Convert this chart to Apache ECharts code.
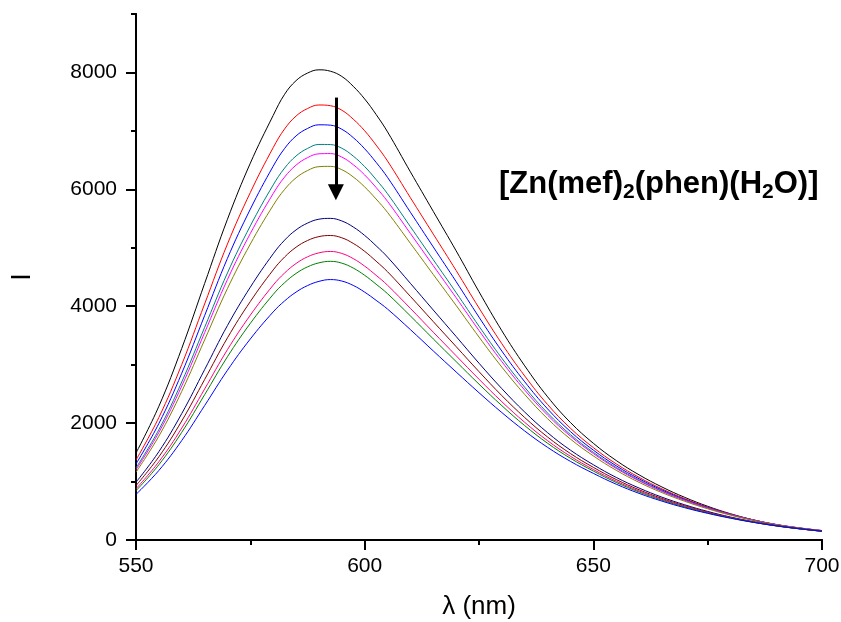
<!DOCTYPE html>
<html>
<head>
<meta charset="utf-8">
<script src="https://cdn.jsdelivr.net/npm/echarts@6/dist/echarts.min.js"></script>
<style>html,body{margin:0;padding:0;background:#fff}#c{width:841px;height:622px}</style>
</head>
<body>
<div id="c"></div>
<script>
const wavelengths = [550,555,560,565,570,575,580,582.5,585,587.5,590,592.5,595,597.5,600,602.5,605,610,615,620,625,630,635,640,645,650,655,660,665,670,675,680,685,690,695,700];
const sBlack   = [1488,2288,3278,4388,5488,6448,7265,7627,7860,7989,8045,8021,7932,7763,7546,7281,6983,6299,5623,4948,4248,3580,2980,2450,2010,1655,1360,1115,907,729,577,449,344,261,201,157];
const sRed     = [1369,2097,3002,4038,5065,5946,6714,7034,7254,7382,7443,7431,7354,7201,7002,6757,6484,5857,5234,4611,3970,3358,2806,2318,1912,1581,1303,1072,875,707,564,443,343,262,204,159];
const sBlue    = [1301,1993,2853,3839,4819,5661,6396,6700,6914,7041,7104,7098,7028,6885,6694,6462,6204,5608,5014,4421,3813,3232,2707,2243,1855,1538,1270,1047,857,694,556,439,342,263,205,160];
const sTeal    = [1233,1888,2703,3637,4570,5375,6075,6364,6571,6699,6768,6766,6703,6569,6389,6168,5924,5361,4796,4233,3658,3110,2612,2172,1803,1500,1241,1025,841,684,551,437,343,266,208,162];
const sMagenta = [1202,1841,2634,3547,4457,5244,5928,6211,6414,6542,6608,6612,6552,6422,6246,6031,5794,5245,4694,4145,3585,3051,2565,2136,1776,1479,1225,1012,831,678,546,435,342,266,208,162];
const sOlive   = [1161,1777,2542,3423,4303,5064,5726,5999,6197,6321,6388,6393,6336,6212,6041,5834,5605,5076,4543,4013,3473,2958,2490,2075,1727,1439,1193,986,811,662,534,425,335,261,205,159];
const sNavy    = [988,1512,2163,2915,3670,4326,4897,5131,5306,5422,5489,5503,5459,5356,5211,5034,4841,4391,3935,3482,3025,2589,2189,1836,1537,1288,1071,889,733,602,489,393,313,246,194,152];
const sWine    = [931,1424,2036,2745,3459,4081,4621,4842,5010,5124,5191,5210,5171,5075,4939,4771,4590,4168,3737,3309,2881,2470,2095,1762,1479,1243,1035,860,711,585,478,385,308,243,192,150];
const sPink    = [876,1339,1914,2583,3257,3848,4361,4569,4731,4845,4913,4937,4903,4815,4686,4529,4359,3963,3556,3153,2751,2366,2013,1699,1432,1207,1007,839,696,574,471,382,307,244,193,150];
const sGreen   = [843,1288,1842,2485,3136,3707,4202,4403,4561,4673,4742,4768,4737,4653,4529,4377,4214,3834,3441,3053,2667,2298,1957,1655,1398,1180,985,821,682,564,463,377,303,241,192,149];
const sRoyal   = [780,1190,1702,2299,2905,3440,3903,4091,4242,4353,4425,4456,4431,4356,4241,4101,3951,3600,3235,2875,2520,2180,1865,1585,1345,1140,955,798,665,552,456,373,302,242,193,150];
const xMajor = [550,600,650,700];
const xMinor = [575,625,675];
const yMajor = [0,2000,4000,6000,8000];
const yMinor = [1000,3000,5000,7000,9000];
const arrowX = 593.7;
const arrowFrom = 7570;
const arrowTo = 5950;

const seriesList = [
  {name:'s1', data:sBlack, color:'#000000'},
  {name:'s2', data:sRed, color:'#ff0000'},
  {name:'s3', data:sBlue, color:'#0000ff'},
  {name:'s4', data:sTeal, color:'#008080'},
  {name:'s5', data:sMagenta, color:'#ff00ff'},
  {name:'s6', data:sOlive, color:'#808000'},
  {name:'s7', data:sNavy, color:'#000080'},
  {name:'s8', data:sWine, color:'#800000'},
  {name:'s9', data:sPink, color:'#ff0080'},
  {name:'s10', data:sGreen, color:'#008000'},
  {name:'s11', data:sRoyal, color:'#0000ff'}
];

const chart = echarts.init(document.getElementById('c'), null, {renderer:'canvas'});
const font = '"Liberation Sans", Arial, sans-serif';

const series = seriesList.map((s, i) => {
  const o = {
    name: s.name,
    type: 'line',
    xAxisIndex: 0, yAxisIndex: 0,
    smooth: 0.4,
    showSymbol: false,
    symbol: 'none',
    data: wavelengths.map((w, k) => [w, s.data[k]]),
    lineStyle: {color: s.color, width: 1},
    itemStyle: {color: s.color},
    z: 2
  };
  if (i === 0) {
    o.markLine = {
      silent: true,
      symbol: ['none', 'triangle'],
      symbolSize: [16, 16],
      label: {show: false},
      lineStyle: {color: '#000', width: 3, type: 'solid'},
      data: [[{coord: [arrowX, arrowFrom]}, {coord: [arrowX, arrowTo]}]],
      z: 5
    };
  }
  return o;
});

const lineCommon = {show: true, onZero: false, lineStyle: {color: '#000', width: 2}};
const fmt = v => String(v);

chart.setOption({
  animation: false,
  backgroundColor: '#ffffff',
  title: {
    text: '[Zn(mef){sub|2}(phen)(H{sub|2}O)]',
    left: 494,
    top: 161,
    textStyle: {
      fontFamily: font, fontWeight: 'bold', fontSize: 31, color: '#000',
      rich: {
        sub: {fontFamily: font, fontWeight: 'bold', fontSize: 21, color: '#000', verticalAlign: 'bottom', padding: [16, 0, 0, 0]}
      }
    }
  },
  grid: {left: 136, right: 19, top: 14, bottom: 82, containLabel: false, outerBoundsMode: 'none'},
  xAxis: [{
    type: 'value',
    min: 550, max: 700, interval: 25,
    name: 'λ (nm)',
    nameLocation: 'middle',
    nameGap: 54,
    nameTextStyle: {fontFamily: font, fontSize: 26, color: '#000'},
    axisLine: lineCommon,
    axisTick: {show: true, inside: false, length: 10, customValues: xMajor, lineStyle: {color: '#000', width: 2}},
    axisLabel: {fontFamily: font, fontSize: 21, color: '#000', margin: 16, customValues: xMajor, formatter: fmt},
    splitLine: {show: false}
  }, {
    type: 'value',
    min: 550, max: 700, interval: 25,
    position: 'bottom',
    axisLine: lineCommon,
    axisTick: {show: true, inside: false, length: 5, customValues: xMinor, lineStyle: {color: '#000', width: 2}},
    axisLabel: {show: false},
    splitLine: {show: false}
  }],
  yAxis: [{
    type: 'value',
    min: 0, max: 9000, interval: 1000,
    name: 'I',
    nameLocation: 'middle',
    nameGap: 100,
    nameRotate: 90,
    nameTextStyle: {fontFamily: font, fontSize: 27, color: '#000'},
    axisLine: lineCommon,
    axisTick: {show: true, inside: false, length: 10, customValues: yMajor, lineStyle: {color: '#000', width: 2}},
    axisLabel: {fontFamily: font, fontSize: 21, color: '#000', margin: 19, customValues: yMajor, formatter: fmt},
    splitLine: {show: false}
  }, {
    type: 'value',
    min: 0, max: 9000, interval: 1000,
    position: 'left',
    offset: 0,
    axisLine: lineCommon,
    axisTick: {show: true, inside: false, length: 5, customValues: yMinor, lineStyle: {color: '#000', width: 2}},
    axisLabel: {show: false},
    splitLine: {show: false}
  }],
  series: series
});
</script>
</body>
</html>
